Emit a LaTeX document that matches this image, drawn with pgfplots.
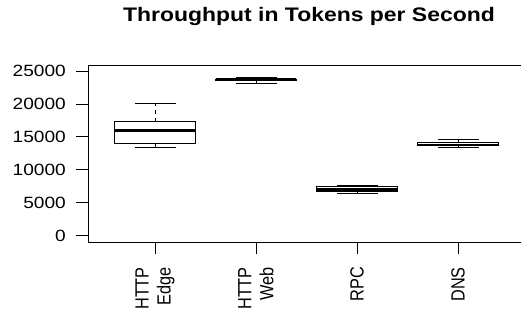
\documentclass[border=0pt]{standalone}
\usepackage{fontspec}
\setmainfont{Liberation Sans}
\usepackage{pgfplots}
\pgfplotsset{compat=1.18}
\usepgfplotslibrary{statistics}
\pgfplotsset{
  /pgfplots/boxplot/every box/.style={draw=black, fill=white, line width=0.8bp},
  /pgfplots/boxplot/every median/.style={line width=2.6bp},
  /pgfplots/boxplot/every whisker/.style={line width=0.8bp, dash pattern=on 4bp off 4bp},
}
\begin{document}
\begin{tikzpicture}
\path[use as bounding box] (-88bp,-76bp) rectangle (433bp,242bp);
\clip (-88bp,-76bp) rectangle (433bp,242bp);
\begin{axis}[
  at={(0,0)}, anchor=south west,
  scale only axis, width=437bp, height=177bp,
  xmin=0.337, xmax=4.663, ymin=-0.956, ymax=25.911,
  axis line style={line width=0.8bp},
  tick style={line width=0.8bp, black, solid},
  tick align=outside, major tick length=11.5bp,
  xtick={1,2,3,4}, xticklabels={{HTTP\\Edge},{HTTP\\Web},RPC,DNS},
  ytick={0,5,10,15,20,25},
  yticklabels={0,5000,10000,15000,20000,25000},
  xtick pos=bottom, ytick pos=left,
  tick label style={font=\fontsize{16.3bp}{18.8bp}\selectfont},
  yticklabel style={inner sep=0pt, anchor=east, xshift=-10.5bp, xscale=1.17},
  xticklabel style={inner sep=0pt, yshift=-13.5bp, xscale=1.17, rotate=90, anchor=east, align=right},
  title={Throughput in Tokens per Second},
  title style={at={(0.5,1)}, anchor=base, inner sep=0pt, xshift=2.5bp, yshift=38bp, xscale=1.17, font=\bfseries\fontsize{19.6bp}{22bp}\selectfont},
]
\addplot[draw=black, boxplot/draw direction=y, boxplot/box extend=0.8, boxplot/whisker extend=0.4,
  boxplot prepared={draw position=1, lower whisker=13.40, lower quartile=14.05, median=15.95, upper quartile=17.33, upper whisker=20.05}] coordinates {};
\addplot[draw=black, boxplot/draw direction=y, boxplot/box extend=0.8, boxplot/whisker extend=0.4,
  boxplot prepared={draw position=2, lower whisker=23.14, lower quartile=23.56, median=23.68, upper quartile=23.79, upper whisker=23.97}] coordinates {};
\addplot[draw=black, boxplot/draw direction=y, boxplot/box extend=0.8, boxplot/whisker extend=0.4,
  boxplot prepared={draw position=3, lower whisker=6.44, lower quartile=6.80, median=6.98, upper quartile=7.44, upper whisker=7.70}] coordinates {};
\addplot[draw=black, boxplot/draw direction=y, boxplot/box extend=0.8, boxplot/whisker extend=0.4,
  boxplot prepared={draw position=4, lower whisker=13.39, lower quartile=13.69, median=13.77, upper quartile=14.18, upper whisker=14.57}] coordinates {};
% whisker staples (solid), at the whisker ends
\addplot[only marks, mark=-, mark size=20bp, mark options={draw=black, line width=0.8bp, solid}] coordinates {
  (1,13.40) (1,20.05) (2,23.14) (2,23.97) (3,6.44) (3,7.70) (4,13.39) (4,14.57)};
\end{axis}
\end{tikzpicture}
\end{document}
